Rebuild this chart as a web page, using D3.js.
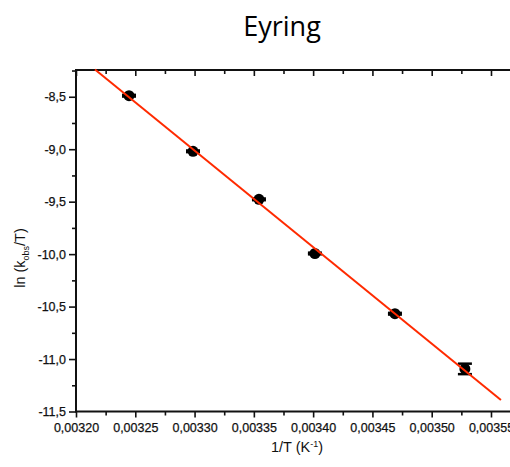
<!DOCTYPE html>
<html>
<head>
<meta charset="utf-8">
<script src="https://cdn.jsdelivr.net/npm/d3@7"></script>
<style>
  body { margin: 0; background: #fff; }
  svg { display: block; }
  .tick text { font-family: "Liberation Sans", Arial, sans-serif; font-size: 12.5px; fill: #111; stroke: #111; stroke-width: 0.25px; }
</style>
</head>
<body>
<svg id="chart" width="510" height="467"></svg>
<script>
// data
const invT = [0.0032447, 0.0032987, 0.0033543, 0.0034015, 0.0034690, 0.0035280]
const lnKT = [-8.49, -9.02, -9.478, -9.994, -10.568, -11.094]
const errs = [0.008, 0.008, 0.008, 0.008, 0.008, 0.05]

const xTicks = [0.00320, 0.00325, 0.00330, 0.00335, 0.00340, 0.00345, 0.00350, 0.00355]
const yTicks = [-11.5, -11.0, -10.5, -10.0, -9.5, -9.0, -8.5]
const fitRange = [0.003216, 0.0035584]

const width = 510, height = 467
const margin = {top: 70, left: 76, bottom: 55.5}

const svg = d3.select('#chart')

let xScale = d3.scaleLinear()
.domain([0.00320, 0.00357])
.range([margin.left, 514.7])

let yScale = d3.scaleLinear()
.domain([-11.5, -8.245])
.range([height - margin.bottom, margin.top])

const commaFmt = (f) => (d => d3.format(f)(d).replace('.', ',').replace('−', '-'))

const xMinor = d3.range(0.003225, 0.00357, 0.00005)
const yMinor = d3.range(-11.25, -8.2, 0.5)

const tickStyle = g => g.selectAll('line').attr('stroke', '#111').attr('stroke-width', 1.6)

// bottom axis
svg.append('g')
.attr('transform', 'translate(0,' + yScale(-11.5) + ')')
.call(d3.axisBottom(xScale).tickValues(xTicks).tickFormat(commaFmt('.5f')).tickSize(6).tickPadding(6))
.call(g => g.select('.domain').remove())
.call(tickStyle)

svg.append('g')
.attr('transform', 'translate(0,' + yScale(-11.5) + ')')
.call(d3.axisBottom(xScale).tickValues(xMinor).tickFormat('').tickSize(4))
.call(g => g.select('.domain').remove())
.call(tickStyle)

// left axis
svg.append('g')
.attr('transform', 'translate(' + margin.left + ',0)')
.call(d3.axisLeft(yScale).tickValues(yTicks).tickFormat(commaFmt('.1f')).tickSize(7).tickPadding(3))
.call(g => g.select('.domain').remove())
.call(tickStyle)

svg.append('g')
.attr('transform', 'translate(' + margin.left + ',0)')
.call(d3.axisLeft(yScale).tickValues(yMinor).tickFormat('').tickSize(4))
.call(g => g.select('.domain').remove())
.call(tickStyle)

// top axis, ticks pointing inward
svg.append('g')
.attr('transform', 'translate(0,' + margin.top + ')')
.call(d3.axisTop(xScale).tickValues(xTicks).tickFormat('').tickSize(-6))
.call(g => g.select('.domain').remove())
.call(tickStyle)

svg.append('g')
.attr('transform', 'translate(0,' + margin.top + ')')
.call(d3.axisTop(xScale).tickValues(xMinor).tickFormat('').tickSize(-4))
.call(g => g.select('.domain').remove())
.call(tickStyle)

// frame
svg.append('rect')
.attr('x', margin.left)
.attr('y', margin.top)
.attr('width', xScale.range()[1] - margin.left)
.attr('height', yScale(-11.5) - margin.top)
.attr('fill', 'none')
.attr('stroke', '#111')
.attr('stroke-width', 2)

// least squares fit
const xm = d3.mean(invT), ym = d3.mean(lnKT)
const slope = d3.sum(invT, (x, i) => (x - xm) * (lnKT[i] - ym)) / d3.sum(invT, x => (x - xm) * (x - xm))
const icpt = ym - slope * xm

// points and error bars
let pts = svg.append('g')

invT.map((x, i) => {
	let cx = xScale(x)
	let y0 = yScale(lnKT[i] - errs[i]), y1 = yScale(lnKT[i] + errs[i])

	pts.append('line')
	.attr('x1', cx).attr('x2', cx)
	.attr('y1', y0).attr('y2', y1)
	.attr('stroke', '#000').attr('stroke-width', 2)

	;[y0, y1].map(yy => {
		pts.append('line')
		.attr('x1', cx - 7).attr('x2', cx + 7)
		.attr('y1', yy).attr('y2', yy)
		.attr('stroke', '#000').attr('stroke-width', 2.5)
	})

	pts.append('circle')
	.attr('cx', cx)
	.attr('cy', yScale(lnKT[i]))
	.attr('r', 5.5)
	.attr('fill', '#000')
})

svg.append('line')
.attr('x1', xScale(fitRange[0]))
.attr('y1', yScale(icpt + slope * fitRange[0]))
.attr('x2', xScale(fitRange[1]))
.attr('y2', yScale(icpt + slope * fitRange[1]))
.attr('stroke', '#ff2a00')
.attr('stroke-width', 2)

// titles
svg.append('text')
.attr('x', 282)
.attr('y', 36)
.attr('text-anchor', 'middle')
.style('font-family', '"Open Sans", sans-serif')
.style('font-size', '27px')
.text('Eyring')

let xl = svg.append('text')
.attr('x', 297)
.attr('y', 452)
.attr('text-anchor', 'middle')
.style('font-family', '"Liberation Sans", Arial, sans-serif')
.style('font-size', '14.5px')
.attr('fill', '#111')
xl.append('tspan').text('1/T (K')
xl.append('tspan').attr('dy', -5).style('font-size', '9px').text('-1')
xl.append('tspan').attr('dy', 5).text(')')

let yl = svg.append('text')
.attr('transform', 'translate(25,258) rotate(-90)')
.attr('text-anchor', 'middle')
.style('font-family', '"Liberation Sans", Arial, sans-serif')
.style('font-size', '14.5px')
.attr('fill', '#111')
yl.append('tspan').text('ln (k')
yl.append('tspan').attr('dy', 4).style('font-size', '9px').text('obs')
yl.append('tspan').attr('dy', -4).text('/T)')
</script>
</body>
</html>
